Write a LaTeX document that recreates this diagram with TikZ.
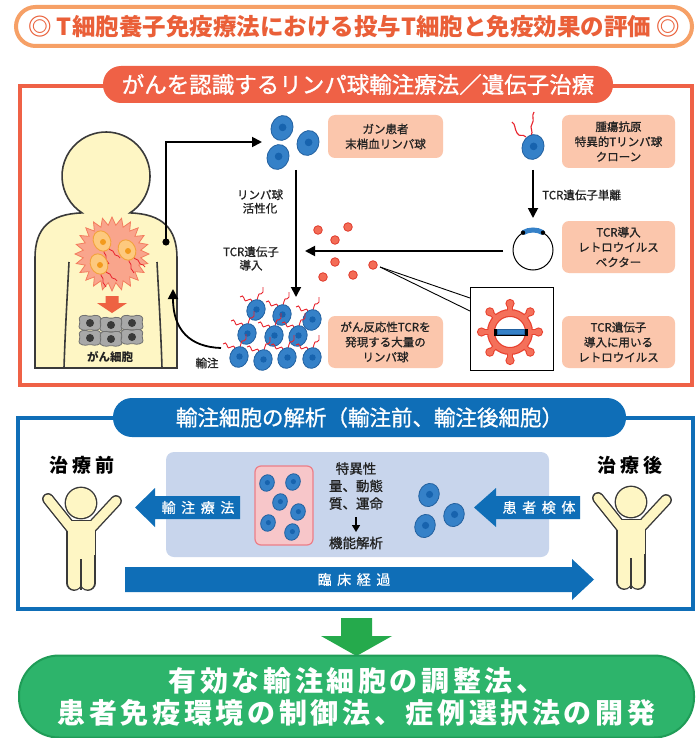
\documentclass[tikz,border=0pt]{standalone}
\usepackage{fontspec}
\setmainfont{Noto Sans CJK JP}
\newfontfamily\medium{Noto Sans CJK JP}[FakeBold=1.1]
\newfontfamily\trackA{Noto Sans CJK JP}[LetterSpace=40,FakeBold=0.8]
\newfontfamily\trackB{Noto Sans CJK JP}[LetterSpace=22]
\newfontfamily\trackC{Noto Sans CJK JP}[LetterSpace=13]
\usetikzlibrary{arrows.meta,calc}

\definecolor{orTitle}{HTML}{EA5F38}
\definecolor{orRing}{HTML}{F6A066}
\definecolor{redFrame}{HTML}{EF6146}
\definecolor{salmon}{HTML}{FBC6AC}
\definecolor{cellBlue}{HTML}{3581C8}
\definecolor{cellEdge}{HTML}{22609F}
\definecolor{cellNuc}{HTML}{1763AE}
\definecolor{navy}{HTML}{0F6EB7}
\definecolor{paleBlue}{HTML}{C8D5EC}
\definecolor{pinkFill}{HTML}{F7C6C9}
\definecolor{pinkEdge}{HTML}{EC7E88}
\definecolor{skin}{HTML}{FEF6C4}
\definecolor{ink}{HTML}{3A3A3A}
\definecolor{txt}{HTML}{222222}
\definecolor{tcr}{HTML}{E8232C}
\definecolor{dotRed}{HTML}{F36C56}
\definecolor{dotEdge}{HTML}{E03A2C}
\definecolor{tumor}{HTML}{F9A58C}
\definecolor{tumorEdge}{HTML}{F37D5E}
\definecolor{orCell}{HTML}{FDC97E}
\definecolor{orCellEdge}{HTML}{F3A23C}
\definecolor{orNuc}{HTML}{F39A1C}
\definecolor{grayCell}{HTML}{A8A8A8}
\definecolor{grayEdge}{HTML}{707070}
\definecolor{grayNuc}{HTML}{3A3A3A}
\definecolor{leafGreen}{HTML}{2DB46B}
\definecolor{leafEdge}{HTML}{1F9C57}
\definecolor{arrowGreen}{HTML}{25AA4C}
\definecolor{virusFill}{HTML}{F4705A}
\definecolor{virusEdge}{HTML}{E8412F}
\definecolor{orArrow}{HTML}{EE6242}

\tikzset{
  flow/.style={draw=black, line width=1.8pt, -{Triangle[length=10pt,width=10pt]}},
  thin line/.style={draw=black, line width=0.9pt},
  tag/.style={fill=salmon, rounded corners=7pt, align=center, inner sep=0pt,
    text=txt, font=\medium\fontsize{11.5}{15}\selectfont},
  note/.style={align=center, inner sep=0pt, text=txt, font=\medium\fontsize{11.5}{13.5}\selectfont},
  blockarrow/.style={fill=navy},
  lymph/.pic={
    \filldraw[fill=cellBlue, draw=cellEdge, line width=0.8pt, rotate=-20] (0,0) ellipse[x radius=9, y radius=10.5];
    \fill[cellNuc] (0.5,-0.5) circle[radius=3.2];
  },
  tcrpair/.pic={
    \draw[tcr, line width=0.9pt] (-4,-8) .. controls (-4,-11) and (-7,-12) .. (-8,-10) .. controls (-9,-8) and (-12,-9) .. (-12,-12) .. controls (-12,-14) and (-15,-15) .. (-16,-13);
    \draw[tcr, line width=0.9pt] (1,-10) .. controls (3,-12) and (1,-15) .. (3,-16) .. controls (5,-17) and (6,-15) .. (7,-18) .. controls (8,-20) and (6,-21) .. (7,-23);
  },
  ocell/.pic={
    \draw[tcr, line width=0.8pt] (6,6) .. controls (8,11) and (11,8) .. (12,12) .. controls (13,16) and (16,13) .. (18,17);
    \draw[tcr, line width=0.8pt] (2,9) .. controls (1,13) and (5,13) .. (4,17) .. controls (3,20) and (7,20) .. (7,23);
    \filldraw[fill=orCell, draw=orCellEdge, line width=0.9pt, rotate=25] (0,0) ellipse[x radius=8.5, y radius=10.5];
    \fill[orNuc] (1,1) circle[radius=3];
  },
  gcell/.pic={
    \filldraw[fill=grayCell, draw=grayEdge, line width=0.8pt, rounded corners=1.5pt]
      (-11,-6) -- (-6,-8) -- (0,-6.5) -- (6,-8) -- (11,-6) -- (10,0) -- (11.5,5) -- (6,7.5)
      -- (0,6.5) -- (-6,7.5) -- (-11.5,5) -- (-10,0) -- cycle;
    \fill[grayNuc] (0,0) circle[radius=4];
  },
  cheer/.pic={
    % dark outline pass
    \fill[ink] (0,0) circle[radius=16.4];
    \draw[ink, line width=11.8pt, line cap=round] (-9,26) -- (-33,-4);
    \draw[ink, line width=11.8pt, line cap=round] (9,26) -- (35,-2);
    \filldraw[ink, line width=2.8pt] (-13.5,18) rectangle (13.5,52);
    \draw[ink, line width=15.8pt, line cap=round] (-6.75,50) -- (-6.75,80);
    \draw[ink, line width=15.8pt, line cap=round] (6.75,50) -- (6.75,80);
    % light fill pass
    \draw[skin, line width=9pt, line cap=round] (-9,26) -- (-33,-4);
    \draw[skin, line width=9pt, line cap=round] (9,26) -- (35,-2);
    \fill[skin] (-13.5,18) rectangle (13.5,52);
    \draw[skin, line width=13pt, line cap=round] (-6.75,50) -- (-6.75,80);
    \draw[skin, line width=13pt, line cap=round] (6.75,50) -- (6.75,80);
    \fill[skin] (0,0) circle[radius=15];
    \draw[ink, line width=1.4pt] (0,56) -- (0,86.5);
  },
}

\begin{document}
\begin{tikzpicture}[x=1pt,y=-1pt]
\fill[white] (0,0) rectangle (699,738);
\useasboundingbox (0,0) rectangle (699,738);

%% ---------- title ----------
\node (title) [draw=orRing, line width=4pt, fill=white, rounded corners=19.5pt,
  minimum width=676pt, minimum height=39pt, inner sep=0pt, text=orTitle,
  font=\bfseries\fontsize{23.5}{26}\selectfont] at (354,26.5)
  {◎ T細胞養子免疫療法における投与T細胞と免疫効果の評価 ◎};

%% ---------- upper panel ----------
\draw[redFrame, line width=3.5pt] (20,86) rectangle (692,385);
\node (gtHead) [fill=redFrame, rounded corners=18pt, minimum width=510pt, minimum height=37pt,
  inner sep=0pt, text=white, font=\medium\fontsize{22.5}{24}\selectfont] at (358,84.5)
  {がんを認識するリンパ球輸注療法／遺伝子治療};

% patient body
\filldraw[fill=skin, draw=ink, line width=1.6pt]
  (82,212.9) .. controls (50,214) and (35,228) .. (35,258) -- (35,368) -- (177,368) -- (177,258)
  .. controls (177,228) and (162,214) .. (130,212.9)
  arc[start angle=56.96, end angle=-236.96, radius=44] -- cycle;
\draw[ink, line width=1.6pt] (69,262) .. controls (67,300) and (65,335) .. (64,368);
\draw[ink, line width=1.6pt] (157,262) .. controls (159,300) and (161,335) .. (162,368);

% tumour mass
\filldraw[fill=tumor, draw=tumorEdge, line width=0.8pt]
  plot[samples at={0,...,47}, variable=\k] ({112+(33+4*cos(\k*180))*cos(\k*7.5)}, {254+(33+4*cos(\k*180))*sin(\k*7.5)}) -- cycle;
\pic at (102,241) {ocell};
\pic at (127,250) {ocell};
\pic at (99,264) {ocell};

% shrinking arrow and cancer cells
\fill[orArrow] (105.5,296) -- (118.5,296) -- (118.5,303) -- (127,303) -- (112,313) -- (97,303) -- (105.5,303) -- cycle;
\foreach \gx/\gy in {90/323,111/325,132/323,90/338,111/339,132/337}
  \pic at (\gx,\gy) {gcell};
\node (cancerLbl) [note, font=\bfseries\fontsize{11.5}{13}\selectfont] at (110,357) {がん細胞};

% blood draw connector
\coordinate (tapDot) at (166,242);
\coordinate (pbmcIn) at (262,142);
\draw[flow] (tapDot) |- (pbmcIn);
\fill (tapDot) circle[radius=3.6];

% peripheral lymphocytes
\pic[scale=1.2] at (282,128) {lymph};
\pic[scale=1.2] at (308,143) {lymph};
\pic[scale=1.2] at (278,157) {lymph};
\node (tagPbmc) [tag, minimum width=115pt, minimum height=43pt] at (385.5,136.5) {ガン患者\\末梢血リンパ球};

% activation / transduction arrow
\coordinate (actTop) at (296,170);
\coordinate (actEnd) at (296,297);
\draw[flow] (actTop) -- (actEnd);
\node (lblAct) [note] at (260,201.5) {リンパ球\\活性化};
\node (lblTrans) [note] at (251,258.5) {TCR遺伝子\\導入};

% expanded TCR lymphocytes
\foreach \lx/\ly in {256/310,282/315,312/320,247/334,274/336,298/336,239/357,263/360,287/358,312/358}{
  \pic at (\lx,\ly) {tcrpair};
  \pic at (\lx,\ly) {lymph};
}
\node (tagMass) [tag, minimum width=115pt, minimum height=52pt] at (385.5,342) {がん反応性TCRを\\発現する大量の\\リンパ球};

% infusion back to the patient
\coordinate (infStart) at (221,348);
\coordinate (bodyIn) at (173,289);
\draw[flow] (infStart) .. controls (190,347) and (173,330) .. (bodyIn);
\node (lblInf) [note] at (207,363) {輸注};

% tumour antigen specific clone
\draw[tcr, line width=1.1pt] (526,137) .. controls (522,133) and (520,138) .. (517,133) .. controls (514,128) and (516,125) .. (512,122);
\draw[tcr, line width=1.1pt] (531,136) .. controls (534,131) and (529,128) .. (532,124) .. controls (535,120) and (531,116) .. (534,112);
\pic[scale=1.2] at (533,147) {lymph};
\node (tagClone) [tag, minimum width=113pt, minimum height=53pt] at (618.5,141.5) {腫瘍抗原\\特異的Tリンパ球\\クローン};

\coordinate (cloneBot) at (533,170);
\coordinate (vecTop) at (533,218);
\draw[flow] (cloneBot) -- (vecTop);
\node (lblIso) [note, anchor=west] at (542,195) {TCR遺伝子単離};

% retroviral vector plasmid
\coordinate (vec) at (533,250);
\draw[black, line width=1pt] (vec) circle[radius=20];
\draw[cellBlue, line width=5pt] (vec) ++(240:20) arc[start angle=240, end angle=300, radius=20];
\fill (vec) ++(240:20) circle[radius=2.2];
\fill (vec) ++(300:20) circle[radius=2.2];
\node (tagVec) [tag, minimum width=113pt, minimum height=52pt] at (618.5,247) {TCR導入\\レトロウイルス\\ベクター};

\coordinate (vecLeft) at (503,251);
\coordinate (dropIn) at (305,251);
\draw[flow] (vecLeft) -- (dropIn);

% virus particles
\foreach \vx/\vy in {318/230,348/227,335/240,335/262,373/265,323/277,353/275}
  \filldraw[fill=dotRed, draw=dotEdge, line width=0.8pt] (\vx,\vy) circle[radius=4.3];

% magnified virus
\coordinate (dotFocus) at (380,267);
\coordinate (boxUp) at (470,298);
\coordinate (boxLow) at (470,311);
\draw[thin line] (dotFocus) -- (boxUp);
\draw[thin line] (dotFocus) -- (boxLow);
\node (zoomBox) [draw=black, line width=1pt, fill=white, minimum width=83pt, minimum height=83pt, inner sep=0pt] at (511.5,328.5) {};
\coordinate (vir) at (510,332);
\foreach \a in {0,45,...,315}{
  \draw[virusEdge, line width=5.6pt] (vir) ++(\a:19) -- ++(\a:9);
  \fill[virusEdge] (vir) ++(\a:28.5) circle[radius=4.6];
}
\draw[virusEdge, line width=8pt] (vir) circle[radius=19];
\foreach \a in {0,45,...,315}{
  \draw[virusFill, line width=3.4pt] (vir) ++(\a:19) -- ++(\a:9);
  \fill[virusFill] (vir) ++(\a:28.5) circle[radius=3.5];
}
\draw[virusFill, line width=5.6pt] (vir) circle[radius=19];
\fill[black] (494,328.5) rectangle (528,335.5);
\filldraw[fill=cellBlue, draw=cellEdge, line width=0.6pt] (497.5,329.5) rectangle (524.5,334.5);
\node (tagRetro) [tag, minimum width=113pt, minimum height=52pt] at (618.5,342) {TCR遺伝子\\導入に用いる\\レトロウイルス};

%% ---------- lower panel ----------
\draw[navy, line width=3.5pt] (18,418) rectangle (693,609);
\node (anHead) [fill=navy, rounded corners=19pt, minimum width=513pt, minimum height=39pt,
  inner sep=0pt, text=white, font=\medium\fontsize{21.5}{24}\selectfont] at (369.5,417.5)
  {輸注細胞の解析（輸注前、輸注後細胞）};

\node (before) [text=black, font=\trackB\bfseries\fontsize{19}{22}\selectfont] at (82,465) {治療前};
\node (after) [text=black, font=\trackB\bfseries\fontsize{19}{22}\selectfont] at (630,465) {治療後};
\pic at (81,503) {cheer};
\pic at (631,502) {cheer};

\fill[paleBlue, rounded corners=8pt] (166,452) rectangle (549,557);
\filldraw[fill=pinkFill, draw=pinkEdge, line width=1.2pt, rounded corners=6pt] (255,466) rectangle (313,545);
\foreach \px/\py in {267/483,293/482,280/502,298/512,268/523,292/532}
  \pic[scale=0.8] at (\px,\py) {lymph};
\foreach \px/\py in {429/495,454/515,425/526}
  \pic[scale=1.12] at (\px,\py) {lymph};

\node (metrics) [note, font=\medium\fontsize{13.5}{17.5}\selectfont] at (356,486) {特異性\\量、動態\\質、運命};
\coordinate (fnTop) at (356,517);
\coordinate (fnEnd) at (356,532);
\draw[draw=black, line width=1.6pt, -{Triangle[length=7pt,width=8pt]}] (fnTop) -- (fnEnd);
\node (function) [note, font=\medium\fontsize{13.5}{17}\selectfont] at (356,543) {機能解析};

% infusion / sampling / clinical course arrows
\fill[blockarrow] (135,507.5) -- (155,488) -- (155,496) -- (240,496) -- (240,519) -- (155,519) -- (155,527) -- cycle;
\node (lblTherapy) [text=white, font=\trackA\fontsize{14}{16}\selectfont] at (198,507.5) {輸注療法};
\fill[blockarrow] (474,507.5) -- (496,488) -- (496,496) -- (580,496) -- (580,519) -- (496,519) -- (496,527) -- cycle;
\node (lblSample) [text=white, font=\trackA\fontsize{14}{16}\selectfont] at (539,507.5) {患者検体};
\fill[blockarrow] (125,567) -- (572,567) -- (572,559) -- (594,579.5) -- (572,600) -- (572,592) -- (125,592) -- cycle;
\node (lblCourse) [text=white, font=\trackA\fontsize{14}{16}\selectfont] at (354,579.5) {臨床経過};

%% ---------- outcome ----------
\fill[arrowGreen] (341,618) -- (372,618) -- (372,636) -- (392,636) -- (356.5,656) -- (321,636) -- (341,636) -- cycle;
\node (goal) [fill=leafGreen, draw=leafEdge, line width=2pt, rounded corners=40pt,
  minimum width=675pt, minimum height=82pt, inner sep=0pt, align=center, text=white,
  font=\trackC\bfseries\fontsize{28}{32}\selectfont] at (356.5,696.5)
  {有効な輸注細胞の調整法、\\患者免疫環境の制御法、症例選択法の開発};
\end{tikzpicture}
\end{document}
